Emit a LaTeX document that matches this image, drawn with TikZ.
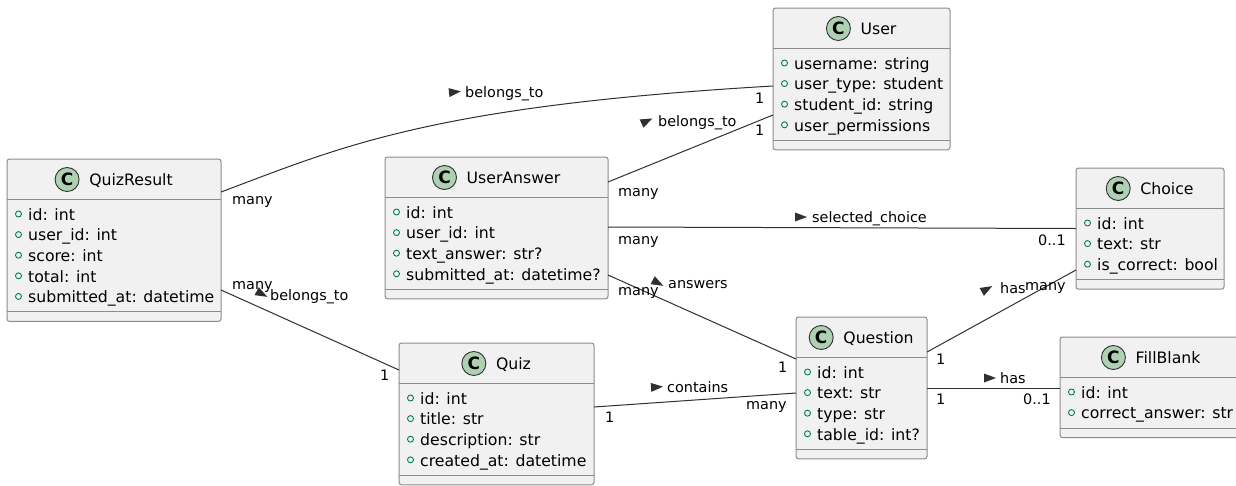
\documentclass[tikz,border=0pt]{standalone}
\usepackage{fontspec}
\setmainfont{DejaVu Sans}
\usetikzlibrary{calc}
\definecolor{boxfill}{HTML}{F1F1F1}
\definecolor{boxline}{HTML}{8C8C8C}
\definecolor{cfill}{HTML}{ADD1B2}
\definecolor{attrgreen}{HTML}{038048}
\definecolor{linkcol}{HTML}{303030}

% \umlclass{name}{left}{top}{width}{title}{attribute count}{attributes}
\newcommand\umlclass[7]{%
  \pgfmathsetmacro\clsh{80+20.6*(#6-1)}%
  \node[classbox, minimum width=#4pt, minimum height=\clsh pt, anchor=north west] (#1) at (#2,#3) {};
  \draw[sepline] ([yshift=-40.5pt]#1.north west) -- ([yshift=-40.5pt]#1.north east);
  \draw[sepline] ([yshift=9.5pt]#1.south west) -- ([yshift=9.5pt]#1.south east);
  \node[titletext, anchor=base] (#1-title) at ([xshift=17pt, yshift=-26pt]#1.north) {#5};
  \node[classicon] (#1-icon) at ($(#1-title.west |- #1.north)+(-22,20.5)$) {C};
  \foreach \attr [count=\k] in {#7} {
    \pgfmathsetmacro\ay{#3+55+20.6*(\k-1)}
    \node[attrmark] (#1-m\k) at (#2+11.5,\ay) {};
    \node[attrtext, anchor=base west] (#1-a\k) at (#2+21,\ay+6.3) {\attr};
  }
}
% small filled direction triangle on an association label
\newcommand\dirtri[3]{%
  \fill[linkcol, shift={(#1,#2)}, rotate=#3] (6,0) -- (-6,4.5) -- (-6,-4.5) -- cycle;
}

\begin{document}
\begin{tikzpicture}[x=1pt,y=-1pt,
  classbox/.style={draw=boxline, fill=boxfill, line width=1pt, rounded corners=2.5pt, inner sep=0pt, outer sep=0pt},
  sepline/.style={draw=boxline, line width=1pt},
  titletext/.style={inner sep=0pt, font=\fontsize{15.7}{18}\selectfont},
  classicon/.style={circle, draw=linkcol, fill=cfill, line width=0.9pt, minimum size=24pt, inner sep=0pt, font=\fontsize{17}{17}\bfseries\selectfont},
  attrmark/.style={circle, draw=attrgreen, line width=0.9pt, minimum size=6pt, inner sep=0pt},
  attrtext/.style={inner sep=0pt, font=\fontsize{15.7}{18}\selectfont},
  link/.style={draw=linkcol, line width=1pt},
  lbl/.style={inner sep=0pt, anchor=base west, font=\fontsize{14.4}{17}\selectfont}
]
\useasboundingbox (0,0) rectangle (1236,485);
\fill[white] (0,0) rectangle (1236,485);
\clip (0,0) rectangle (1236,485);

% classes
\umlclass{qr}{7}{159}{214}{QuizResult}{5}{id: int, user\_id: int, score: int, total: int, submitted\_at: datetime}
\umlclass{usr}{773}{8}{177}{User}{4}{username: string, user\_type: student, student\_id: string, user\_permissions}
\umlclass{ua}{385}{157}{223}{UserAnswer}{4}{id: int, user\_id: int, text\_answer: str?, submitted\_at: datetime?}
\umlclass{ch}{1076}{168}{148}{Choice}{3}{id: int, text: str, is\_correct: bool}
\umlclass{qz}{399}{343}{195}{Quiz}{4}{id: int, title: str, description: str, created\_at: datetime}
\umlclass{qs}{796}{317}{131}{Question}{4}{id: int, text: str, type: str, table\_id: int?}
\umlclass{fb}{1060}{337}{182}{FillBlank}{2}{id: int, correct\_answer: str}

% associations
\draw[link] ([yshift=-33pt]qr.north east) .. controls +(120,-45) and +(-343,20) .. ([yshift=-78pt]usr.north west);
\draw[link] ([yshift=-25pt]ua.north east) -- ([yshift=-107pt]usr.north west);
\draw[link] ([yshift=-70pt]ua.north east) -- ([yshift=-60.5pt]ch.north west);
\draw[link] ([yshift=-118pt]ua.north east) -- ([yshift=-42pt]qs.north west);
\draw[link] ([yshift=-131pt]qr.north east) -- ([yshift=-27pt]qz.north west);
\draw[link] ([yshift=-64pt]qz.north east) -- ([yshift=-76pt]qs.north west);
\draw[link] ([yshift=-35pt]qs.north east) -- ([yshift=-102pt]ch.north west);
\draw[link] ([yshift=-71pt]qs.north east) -- ([yshift=-51pt]fb.north west);

% QuizResult -- User
\dirtri{455}{92}{6}
\node[lbl] (l1) at (465,97) {belongs\_to};
\node[lbl] (l1a) at (232,204) {many};
\node[lbl] (l1b) at (755,103) {1};
% UserAnswer -- User
\dirtri{647}{121}{25}
\node[lbl] (l2) at (658,126) {belongs\_to};
\node[lbl] (l2a) at (618,196) {many};
\node[lbl] (l2b) at (755,135) {1};
% UserAnswer -- Choice
\dirtri{801}{217}{0}
\node[lbl] (l3) at (812,222) {selected\_choice};
\node[lbl] (l3a) at (618,244) {many};
\node[lbl] (l3b) at (1038,245) {0..1};
% UserAnswer -- Question
\dirtri{658}{283}{-28}
\node[lbl] (l4) at (668,288) {answers};
\node[lbl] (l4a) at (618,295) {many};
\node[lbl] (l4b) at (778,372) {1};
% QuizResult -- Quiz
\dirtri{262}{294}{-28}
\node[lbl] (l5) at (270,300) {belongs\_to};
\node[lbl] (l5a) at (232,289) {many};
\node[lbl] (l5b) at (380,380) {1};
% Quiz -- Question
\dirtri{657}{387}{4}
\node[lbl] (l6) at (667,392) {contains};
\node[lbl] (l6a) at (605,422) {1};
\node[lbl] (l6b) at (746,409) {many};
% Question -- Choice
\dirtri{987}{289}{29}
\node[lbl] (l7) at (1000,293) {has};
\node[lbl] (l7a) at (936,364) {1};
\node[lbl] (l7b) at (1025,290) {many};
% Question -- FillBlank
\dirtri{990}{378}{0}
\node[lbl] (l8) at (1000,383) {has};
\node[lbl] (l8a) at (936,404) {1};
\node[lbl] (l8b) at (1023,404) {0..1};
\end{tikzpicture}
\end{document}
